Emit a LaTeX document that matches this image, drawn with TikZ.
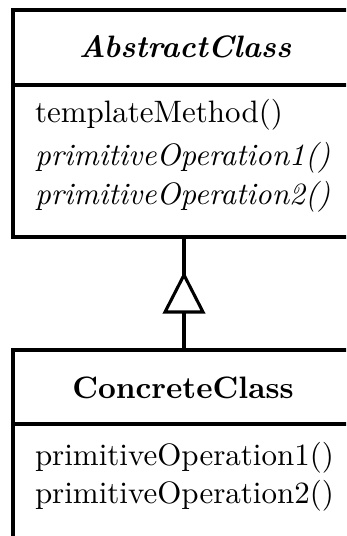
\documentclass[tikz,border=0pt]{standalone}
\begin{document}
\begin{tikzpicture}[x=0.3228pt,y=-0.3228pt,
  umlline/.style={draw=black,line width=1pt},
  txt/.style={inner sep=0pt,outer sep=0pt,font=\normalsize}]
\useasboundingbox (0,0) rectangle (346,536);
\clip (0,0) rectangle (346,536);
% AbstractClass box
\coordinate (atl) at (13,10);
\coordinate (atr) at (370,10);
\coordinate (asl) at (13,85);
\coordinate (asr) at (370,85);
\coordinate (abl) at (13,237);
\coordinate (abr) at (370,237);
\draw[umlline] (atr) -- (atl) -- (abl) -- (abr);
\draw[umlline] (asl) -- (asr);
\node[txt,anchor=base] (aname) at (185,58) {\bfseries\itshape AbstractClass};
\node[txt,anchor=base west] (am1) at (35,123) {templateMethod()};
\node[txt,anchor=base west] (am2) at (35,166) {\itshape primitiveOperation1()};
\node[txt,anchor=base west] (am3) at (35,205) {\itshape primitiveOperation2()};
% ConcreteClass box
\coordinate (ctl) at (13,350);
\coordinate (ctr) at (370,350);
\coordinate (csl) at (13,424);
\coordinate (csr) at (370,424);
\coordinate (cbl) at (13,560);
\draw[umlline] (ctr) -- (ctl) -- (cbl);
\draw[umlline] (csl) -- (csr);
\node[txt,anchor=base] (cname) at (183,398) {\bfseries ConcreteClass};
\node[txt,anchor=base west] (cm1) at (35,465) {primitiveOperation1()};
\node[txt,anchor=base west] (cm2) at (35,503) {primitiveOperation2()};
% generalization
\coordinate (abot) at (184,237);
\coordinate (apex) at (184,275);
\coordinate (bl) at (165,312);
\coordinate (br) at (203,312);
\coordinate (bmid) at (184,312);
\coordinate (ctop) at (184,350);
\draw[umlline] (abot) -- (apex);
\draw[umlline,line join=miter] (apex) -- (bl) -- (br) -- cycle;
\draw[umlline] (bmid) -- (ctop);
\end{tikzpicture}
\end{document}
